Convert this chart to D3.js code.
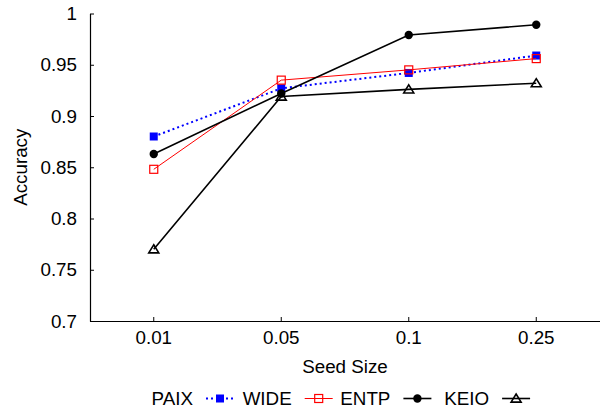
<!DOCTYPE html>
<html>
<head>
<meta charset="utf-8">
<script src="https://cdn.jsdelivr.net/npm/d3@7"></script>
<style>
  html, body { margin: 0; padding: 0; background: #fff; }
  svg { display: block; }
  text { font-family: "Liberation Sans", Arial, sans-serif; fill: #000; }
</style>
</head>
<body>
<svg id="chart" width="600" height="409"></svg>
<script>
// ---- data ----
const categories = ["0.01", "0.05", "0.1", "0.25"];
const seriesNames = ["PAIX", "WIDE", "ENTP", "KEIO"];
const paix = [0.880, 0.927, 0.942, 0.959];
const wide = [0.848, 0.935, 0.945, 0.956];
const entp = [0.863, 0.922, 0.979, 0.989];
const keio = [0.770, 0.919, 0.926, 0.932];
const yTicks = [0.7, 0.75, 0.8, 0.85, 0.9, 0.95, 1];
const yTickLabels = ["0.7", "0.75", "0.8", "0.85", "0.9", "0.95", "1"];
const xTitle = "Seed Size";
const yTitle = "Accuracy";

(function () {
const FS = "18.8px";
const series = [
  { name: seriesNames[0], values: paix, color: "#0000ff", width: 2, dash: "2,3", marker: "square", fill: true },
  { name: seriesNames[1], values: wide, color: "#ff0000", width: 1, dash: null, marker: "square", fill: false },
  { name: seriesNames[2], values: entp, color: "#000000", width: 1.6, dash: null, marker: "circle", fill: true },
  { name: seriesNames[3], values: keio, color: "#000000", width: 1.6, dash: null, marker: "triangle", fill: false }
];

const svg = d3.select("#chart");
const mLeft = 90, mRight = 600, mTop = 13.5, mBottom = 321;

const x = d3.scaleBand().domain(categories).range([mLeft, mRight]).padding(0);
const xc = c => x(c) + x.bandwidth() / 2;
const y = d3.scaleLinear().domain([0.7, 1]).range([mBottom, mTop]);

// axes
const yAxis = d3.axisLeft(y).tickValues(yTicks)
  .tickFormat((d, i) => yTickLabels[i]).tickSizeInner(-4).tickSizeOuter(0).tickPadding(13);
const gy = svg.append("g").attr("transform", `translate(${mLeft},0)`).call(yAxis);
gy.selectAll("text").style("font-size", FS);

const xAxis = d3.axisBottom(x).tickSizeInner(-4).tickSizeOuter(0).tickPadding(10);
const gx = svg.append("g").attr("transform", `translate(0,${mBottom})`).call(xAxis);
gx.selectAll("text").style("font-size", FS);

[gx, gy].forEach(g => {
  g.select(".domain").attr("stroke", "#000").attr("stroke-width", 1.2);
  g.selectAll(".tick line").attr("stroke", "#000").attr("stroke-width", 1);
  g.selectAll("text").attr("fill", "#000").style("font-family", "'Liberation Sans', Arial, sans-serif");
});
gx.select(".domain").attr("d", `M${mLeft},0.5H${mRight}`);

// titles
svg.append("text").attr("x", (mLeft + mRight) / 2).attr("y", 373)
  .attr("text-anchor", "middle").style("font-size", FS).text(xTitle);
svg.append("text").attr("transform", `translate(27,${(mTop + mBottom) / 2}) rotate(-90)`)
  .attr("text-anchor", "middle").style("font-size", FS).text(yTitle);

// markers
function drawMarker(g, type, cx, cy, s) {
  if (type === "square") {
    const h = 4;
    g.append("rect").attr("x", cx - h).attr("y", cy - h).attr("width", 2 * h).attr("height", 2 * h)
      .attr("fill", s.fill ? s.color : "none").attr("stroke", s.color).attr("stroke-width", s.fill ? 0 : 1.2);
  } else if (type === "circle") {
    g.append("circle").attr("cx", cx).attr("cy", cy).attr("r", 4.2).attr("fill", s.color);
  } else if (type === "triangle") {
    const w = 5, h = 4.5;
    g.append("path").attr("d", `M${cx},${cy - h}L${cx + w},${cy + h * 0.8}L${cx - w},${cy + h * 0.8}Z`)
      .attr("fill", "none").attr("stroke", s.color).attr("stroke-width", 1.6);
  }
}

const line = d3.line().x((d, i) => xc(categories[i])).y(d => y(d));

series.forEach(s => {
  const g = svg.append("g");
  g.append("path").datum(s.values).attr("d", line)
    .attr("fill", "none").attr("stroke", s.color).attr("stroke-width", s.width)
    .attr("stroke-dasharray", s.dash);
  s.values.forEach((v, i) => drawMarker(g, s.marker, xc(categories[i]), y(v), s));
});

// legend
const legY = 404.5;
const legStart = 220, legStep = 98.7;
series.forEach((s, i) => {
  const cx = legStart + i * legStep;
  const g = svg.append("g");
  g.append("text").attr("x", cx - 27).attr("y", legY).attr("text-anchor", "end")
    .style("font-size", FS).text(s.name);
  g.append("line").attr("x1", cx - 14).attr("x2", cx + 14).attr("y1", legY - 6).attr("y2", legY - 6)
    .attr("stroke", s.color).attr("stroke-width", s.width).attr("stroke-dasharray", s.dash);
  drawMarker(g, s.marker, cx, legY - 6, s);
});
})();
</script>
</body>
</html>
